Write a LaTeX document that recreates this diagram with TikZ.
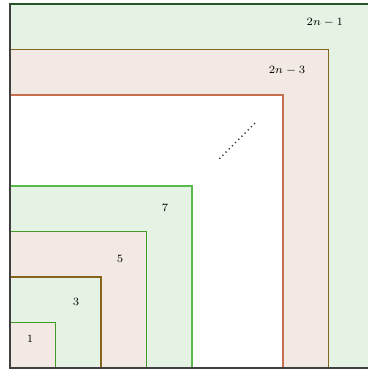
\documentclass[tikz,border=0pt]{standalone}
\definecolor{bandgreen}{RGB}{228,243,228}
\definecolor{bandpink}{RGB}{243,233,228}
\definecolor{edgedark}{RGB}{40,85,40}
\definecolor{edgeolive}{RGB}{135,100,30}
\definecolor{edgeorange}{RGB}{200,110,80}
\definecolor{edgelight}{RGB}{90,185,75}
\definecolor{edgegreen}{RGB}{65,155,40}
\tikzset{band/.style={line width=1pt}, lbl/.style={font=\scriptsize}}
\begin{document}
\begin{tikzpicture}[x=1cm,y=1cm]
  \useasboundingbox (-0.22,-0.02) rectangle (7.85,8.09);
  \filldraw[band,fill=bandgreen,draw=edgedark] (0,0) rectangle (8,8);
  \filldraw[band,fill=bandpink,draw=edgeolive] (0,0) rectangle (7,7);
  \filldraw[band,fill=white,draw=edgeorange] (0,0) rectangle (6,6);
  \filldraw[band,fill=bandgreen,draw=edgelight] (0,0) rectangle (4,4);
  \filldraw[band,fill=bandpink,draw=edgegreen] (0,0) rectangle (3,3);
  \filldraw[band,fill=bandgreen,draw=edgeolive] (0,0) rectangle (2,2);
  \filldraw[band,fill=bandpink,draw=edgegreen] (0,0) rectangle (1,1);
  \draw[band,black!75] (0,8) -- (0,0) -- (8,0);
  \coordinate (dotsA) at (4.6,4.6);
  \coordinate (dotsB) at (5.4,5.4);
  \draw[black!80,dotted,thick] (dotsA) -- (dotsB);
  \node[lbl] (one) at (0.44,0.64) {$1$};
  \node[lbl] (three) at (1.45,1.45) {$3$};
  \node[lbl] (five) at (2.42,2.40) {$5$};
  \node[lbl] (seven) at (3.41,3.52) {$7$};
  \node[lbl] (penult) at (6.09,6.53) {$2n-3$};
  \node[lbl] (last) at (6.92,7.60) {$2n-1$};
\end{tikzpicture}
\end{document}
